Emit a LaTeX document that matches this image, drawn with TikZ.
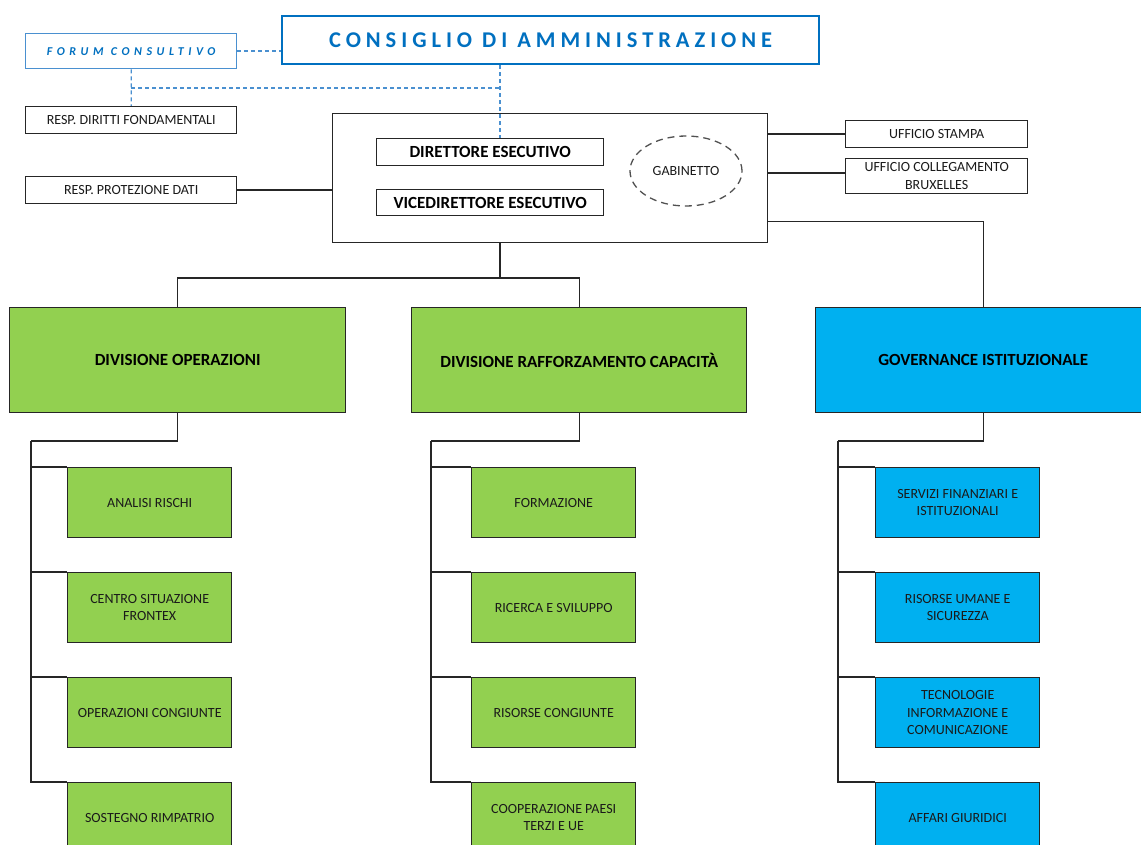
\documentclass[tikz,border=0pt]{standalone}
\usepackage{fontspec}
\setmainfont{Carlito}
\newfontfamily\titlefont[LetterSpace=22]{Carlito}
\newfontfamily\forumfont[LetterSpace=38]{Carlito}
\usetikzlibrary{shapes.geometric,calc}
\definecolor{cblue}{HTML}{0070C0}
\definecolor{dblue}{HTML}{4A90D0}
\definecolor{fgreen}{HTML}{92D050}
\definecolor{fblue}{HTML}{00B0F0}
\definecolor{linec}{HTML}{262626}
\definecolor{txt}{HTML}{1A1A1A}
\begin{document}
\begin{tikzpicture}[x=1pt,y=-1pt,
  box/.style={draw=linec, line width=1.4pt, inner sep=0pt, align=center, anchor=north west, text=txt},
  small/.style={box, font=\fontsize{14}{17.5}\selectfont},
  boldbox/.style={box, font=\fontsize{17}{20}\selectfont\bfseries, text=black},
  divbox/.style={box, font=\fontsize{17}{20}\selectfont\bfseries, text=black, minimum height=105},
  subg/.style={small, fill=fgreen, minimum width=164, minimum height=70},
  subb/.style={small, fill=fblue, minimum width=164, minimum height=70},
  conn/.style={draw=linec, line width=1.4pt},
  dconn/.style={draw=dblue, line width=1.3pt, dash pattern=on 4pt off 3pt}
]
\useasboundingbox (0,0) rectangle (1141,845);
\clip (0,0) rectangle (1141,845);
\fill[white] (0,0) rectangle (1141,845);

% top
\node[draw=cblue, line width=2.2pt, minimum width=537, minimum height=48, anchor=north west, inner sep=0pt,
      text=cblue, font=\fontsize{22.5}{26}\titlefont\bfseries] (cda) at (281,15) {CONSIGLIO DI AMMINISTRAZIONE};
\node[draw=dblue, line width=1.3pt, minimum width=211, minimum height=35, anchor=north west, inner sep=0pt,
      text=cblue, font=\fontsize{12}{14}\forumfont\bfseries\itshape] (forum) at (25,33) {FORUM CONSULTIVO};
\node[small, minimum width=211, minimum height=27] (rdf) at (25,106) {RESP. DIRITTI FONDAMENTALI};
\node[small, minimum width=211, minimum height=27] (rpd) at (25,176) {RESP. PROTEZIONE DATI};

\node[draw=linec, line width=1.4pt, minimum width=435, minimum height=129, anchor=north west, inner sep=0pt] (big) at (332,113) {};
\node[boldbox, minimum width=227, minimum height=27] (de) at (376,138) {DIRETTORE ESECUTIVO};
\node[boldbox, minimum width=227, minimum height=26] (vde) at (376,189) {VICEDIRETTORE ESECUTIVO};
\node[ellipse, draw=linec!80, line width=1.3pt, dash pattern=on 7pt off 5pt, minimum width=112, minimum height=70,
      inner sep=0pt, text=txt, font=\fontsize{14}{17.5}\selectfont] (gab) at (686,171) {GABINETTO};

\node[small, minimum width=182, minimum height=27] (us) at (845,120) {UFFICIO STAMPA};
\node[small, minimum width=182, minimum height=35] (uc) at (845,158) {UFFICIO COLLEGAMENTO\\BRUXELLES};

% dashed connectors
\coordinate (dj) at (500,88);
\draw[dconn] (forum.east) -- (forum.east -| cda.west);
\draw[dconn] (forum.south) -- (rdf.north);
\draw[dconn] (forum.south |- dj) -- (dj);
\draw[dconn] (cda.south -| dj) -- (de.north -| dj);

% solid connectors top
\draw[conn] (rpd.east) -- (rpd.east -| big.west);
\draw[conn] (big.east |- us.west) -- (us.west);
\draw[conn] ($(big.east |- uc.west)+(0,-3)$) -- ($(uc.west)+(0,-3)$);

% divisions
\node[divbox, fill=fgreen, minimum width=336] (ops) at (9,307) {DIVISIONE OPERAZIONI};
\node[divbox, fill=fgreen, minimum width=335] (raff) at (411,307) {DIVISIONE RAFFORZAMENTO CAPACITÀ};
\node[divbox, fill=fblue, minimum width=335] (gov) at (815,307) {GOVERNANCE ISTITUZIONALE};

\coordinate (j) at (500,278);
\draw[conn] (big.south -| j) -- (j);
\draw[conn] (ops.north) |- (j) -| (raff.north);
\draw[conn] ($(big.south east)+(0,-22)$) -| (gov.north);

% operations children
\node[subg] (o1) at (67,467) {ANALISI RISCHI};
\node[subg] (o2) at (67,572) {CENTRO SITUAZIONE\\FRONTEX};
\node[subg] (o3) at (67,677) {OPERAZIONI CONGIUNTE};
\node[subg] (o4) at (67,782) {SOSTEGNO RIMPATRIO};
\coordinate (os) at (31,441);
\draw[conn] (ops.south) |- (os);
\foreach \n in {o1,o2,o3,o4} \draw[conn] (os) |- (\n.north west);

% capacity children
\node[subg] (r1) at (471,467) {FORMAZIONE};
\node[subg] (r2) at (471,572) {RICERCA E SVILUPPO};
\node[subg] (r3) at (471,677) {RISORSE CONGIUNTE};
\node[subg] (r4) at (471,782) {COOPERAZIONE PAESI\\TERZI E UE};
\coordinate (rs) at (431,441);
\draw[conn] (raff.south) |- (rs);
\foreach \n in {r1,r2,r3,r4} \draw[conn] (rs) |- (\n.north west);

% governance children
\node[subb] (g1) at (875,467) {SERVIZI FINANZIARI E\\ISTITUZIONALI};
\node[subb] (g2) at (875,572) {RISORSE UMANE E\\SICUREZZA};
\node[subb] (g3) at (875,677) {TECNOLOGIE\\INFORMAZIONE E\\COMUNICAZIONE};
\node[subb] (g4) at (875,782) {AFFARI GIURIDICI};
\coordinate (gs) at (838,441);
\draw[conn] (gov.south) |- (gs);
\foreach \n in {g1,g2,g3,g4} \draw[conn] (gs) |- (\n.north west);
\end{tikzpicture}
\end{document}
